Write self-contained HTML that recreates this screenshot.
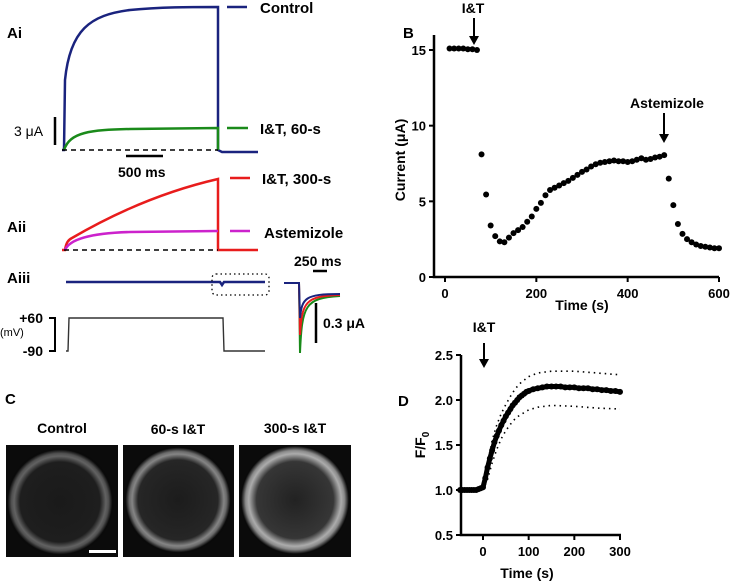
<!DOCTYPE html>
<html><head><meta charset="utf-8"><style>
html,body{margin:0;padding:0;background:#fff}
svg{display:block;font-family:"Liberation Sans",Arial,sans-serif;font-weight:bold}
</style></head><body>
<svg id="fig" width="731" height="584" viewBox="0 0 731 584" xmlns="http://www.w3.org/2000/svg">
<defs>
<radialGradient id="cellA" cx="50%" cy="50%" r="50%">
<stop offset="0" stop-color="#1a1a1a"/><stop offset="0.74" stop-color="#1e1e1e"/><stop offset="0.85" stop-color="#626262"/><stop offset="0.9" stop-color="#505050"/><stop offset="0.97" stop-color="#0a0a0a"/></radialGradient>
<radialGradient id="cellB" cx="50%" cy="50%" r="50%">
<stop offset="0" stop-color="#1c1c1c"/><stop offset="0.74" stop-color="#262626"/><stop offset="0.85" stop-color="#858585"/><stop offset="0.9" stop-color="#6a6a6a"/><stop offset="0.97" stop-color="#0a0a0a"/></radialGradient>
<radialGradient id="cellC" cx="50%" cy="50%" r="50%">
<stop offset="0" stop-color="#222"/><stop offset="0.7" stop-color="#363636"/><stop offset="0.84" stop-color="#acacac"/><stop offset="0.9" stop-color="#8a8a8a"/><stop offset="0.98" stop-color="#0a0a0a"/></radialGradient>
</defs>

<!-- Panel A -->
<g fill="none" stroke-width="2.5">
<text x="7" y="38" font-size="15" fill="#000" stroke="none">Ai</text>
<path d="M62,150 L64,150 L65,80 C70,30 90,15 130,10 C160,7 190,7 218,7 L218,150 L222,152 L258,152" stroke="#1a237e"/>
<path d="M64,150 C70,132 90,130 130,129 L218,128 L218,150" stroke="#1a8a1a"/>
<path d="M62,150 L218,150" stroke="#000" stroke-width="1.6" stroke-dasharray="5,4"/>
<line x1="227" y1="7" x2="247" y2="7" stroke="#1a237e"/>
<text x="260" y="13" font-size="15" fill="#000" stroke="none">Control</text>
<line x1="227" y1="128" x2="248" y2="128" stroke="#1a8a1a"/>
<text x="260" y="134" font-size="15" fill="#000" stroke="none">I&amp;T, 60-s</text>
<line x1="55" y1="117" x2="55" y2="145" stroke="#000"/>
<text x="14" y="136" font-size="14" fill="#000" stroke="none" font-weight="normal">3 μA</text>
<line x1="126" y1="156" x2="163" y2="156" stroke="#000"/>
<text x="118" y="177" font-size="14" fill="#000" stroke="none">500 ms</text>

<text x="7" y="232" font-size="15" fill="#000" stroke="none">Aii</text>
<path d="M62,250 L65,250 C66,243 68,240 72,238 C120,210 170,190 218,179 L218,250 L258,250" stroke="#e81c1c"/>
<path d="M65,250 C70,238 95,233 130,232 L218,231" stroke="#cc22cc"/>
<path d="M64,250 L218,250" stroke="#000" stroke-width="1.6" stroke-dasharray="5,4"/>
<line x1="230" y1="178" x2="250" y2="178" stroke="#e81c1c"/>
<text x="262" y="184" font-size="15" fill="#000" stroke="none">I&amp;T, 300-s</text>
<line x1="230" y1="231" x2="250" y2="231" stroke="#cc22cc"/>
<text x="264" y="238" font-size="15" fill="#000" stroke="none">Astemizole</text>

<text x="7" y="283" font-size="15" fill="#000" stroke="none">Aiii</text>
<path d="M66,282 L220,282 L222,285 L224,282 L265,282" stroke="#1a237e"/>
<rect x="212" y="274" width="57" height="21" rx="4" stroke="#000" stroke-width="1.3" stroke-dasharray="1.5,3"/>
<path d="M66,351 L68,351 L69,318 L223,318 L224,351 L265,351" stroke="#333" stroke-width="1.4"/>
<path d="M49,318 L55,318 L55,351 L49,351" stroke="#000" stroke-width="2"/>
<text x="43" y="323" font-size="14" fill="#000" stroke="none" text-anchor="end">+60</text>
<text x="0" y="336" font-size="11" fill="#000" stroke="none" font-weight="normal">(mV)</text>
<text x="43" y="356" font-size="14" fill="#000" stroke="none" text-anchor="end">-90</text>
<g stroke-width="2">
<path d="M284,283 L299,283 L300,353 C302,305 305,298 340,296" stroke="#1a8a1a"/>
<path d="M284,283 L299,283 L300,335 C302,302 305,296 340,295" stroke="#e81c1c"/>
<path d="M284,283 L299,283 L300,318 C302,298 305,294 340,294" stroke="#1a237e"/>
</g>
<line x1="313" y1="271" x2="327" y2="271" stroke="#000"/>
<text x="294" y="266" font-size="14" fill="#000" stroke="none">250 ms</text>
<line x1="316" y1="303" x2="316" y2="343" stroke="#000"/>
<text x="323" y="328" font-size="14" fill="#000" stroke="none">0.3 μA</text>
</g>

<!-- Panel C -->
<g>
<text x="5" y="404" font-size="15">C</text>
<text x="62" y="433" font-size="14" text-anchor="middle">Control</text>
<text x="178" y="434" font-size="14" text-anchor="middle">60-s I&amp;T</text>
<text x="295" y="433" font-size="14" text-anchor="middle">300-s I&amp;T</text>
<rect x="6" y="445" width="112" height="112" fill="#0b0b0b"/>
<circle cx="60" cy="502" r="54" fill="url(#cellA)"/>
<rect x="89" y="550" width="27" height="3" fill="#fff"/>
<rect x="123" y="445" width="111" height="112" fill="#0b0b0b"/>
<circle cx="178" cy="500" r="54" fill="url(#cellB)"/>
<rect x="239" y="445" width="112" height="112" fill="#0b0b0b"/>
<circle cx="295" cy="500" r="55" fill="url(#cellC)"/>
</g>

<g id="chartB"></g>
<g id="chartD"></g>
</svg>
<script>
const NS="http://www.w3.org/2000/svg";
const bTimes=[10,20,30,40,50,60,70,80,90,100,110,120,130,140,150,160,170,180,190,200,210,220,230,240,250,260,270,280,290,300,310,320,330,340,350,360,370,380,390,400,410,420,430,440,450,460,470,480,490,500,510,520,530,540,550,560,570,580,590,600];
const bCurrent=[15.1,15.1,15.1,15.1,15.05,15.05,15.0,8.1,5.45,3.4,2.7,2.35,2.3,2.6,2.9,3.1,3.3,3.65,4.0,4.5,4.9,5.4,5.75,5.9,6.05,6.2,6.35,6.55,6.75,6.95,7.1,7.3,7.45,7.55,7.6,7.65,7.7,7.65,7.65,7.6,7.65,7.75,7.85,7.75,7.8,7.9,7.95,8.05,6.5,4.75,3.5,2.85,2.5,2.3,2.15,2.05,2.0,1.95,1.9,1.9];
const bXTicks=[0,200,400,600];
const bYTicks=[0,5,10,15];
const dTimes=[-50,-45,-40,-35,-30,-25,-20,-15,-10,-5,0,5,10,15,20,25,30,35,40,45,50,55,60,65,70,75,80,85,90,95,100,110,120,130,140,150,160,170,180,190,200,210,220,230,240,250,260,270,280,290,300];
const dMean=[1.0,1.0,1.0,1.0,1.0,1.0,1.0,1.0,1.01,1.02,1.03,1.13,1.25,1.35,1.44,1.53,1.6,1.66,1.72,1.77,1.82,1.86,1.9,1.94,1.97,2.0,2.03,2.05,2.07,2.09,2.1,2.12,2.13,2.14,2.15,2.15,2.15,2.15,2.14,2.14,2.14,2.13,2.13,2.13,2.12,2.12,2.11,2.11,2.1,2.1,2.09];
const dUpperTimes=[0,10,20,30,40,50,60,70,80,100,120,150,200,250,300];
const dUpper=[1.05,1.3,1.55,1.72,1.85,1.95,2.04,2.12,2.18,2.26,2.3,2.32,2.32,2.3,2.28];
const dLower=[1.0,1.12,1.3,1.45,1.57,1.66,1.73,1.79,1.83,1.89,1.92,1.94,1.93,1.91,1.9];
const dXTicks=[0,100,200,300];
const dYTicks=[0.5,1.0,1.5,2.0,2.5];

function el(tag,attrs,parent){const e=document.createElementNS(NS,tag);for(const k in attrs)e.setAttribute(k,attrs[k]);parent.appendChild(e);return e;}

// Chart B
const gB=document.getElementById('chartB');
const bx=t=>445+t*(719-445)/600;
const by=v=>277-v*(277-50)/15;
el('path',{d:`M434,35 L434,277 L719,277`,fill:'none',stroke:'#000','stroke-width':2.5},gB);
bXTicks.forEach(t=>{el('line',{x1:bx(t),y1:277,x2:bx(t),y2:282,stroke:'#000','stroke-width':2},gB);
 const tx=el('text',{x:bx(t),y:298,'font-size':13,'text-anchor':'middle'},gB);tx.textContent=t;
 
 });
bYTicks.forEach(v=>{el('line',{x1:429,y1:by(v),x2:434,y2:by(v),stroke:'#000','stroke-width':2},gB);
 const tx=el('text',{x:426,y:by(v)+5,'font-size':13,'text-anchor':'end'},gB);tx.textContent=v;
 
 });
bTimes.forEach((t,i)=>{const c=el('circle',{cx:bx(t),cy:by(bCurrent[i]),r:3,fill:'#000'},gB);
 
 });
let t1=el('text',{x:403,y:38,'font-size':15},gB);t1.textContent='B';
let t2=el('text',{x:582,y:310,'font-size':14,'text-anchor':'middle'},gB);t2.textContent='Time (s)';


let t3=el('text',{x:0,y:0,'font-size':14,'text-anchor':'middle',transform:'translate(405,160) rotate(-90)'},gB);t3.textContent='Current (μA)';


let t4=el('text',{x:473,y:13,'font-size':14,'text-anchor':'middle'},gB);t4.textContent='I&T';
el('path',{d:'M474,18 L474,42',stroke:'#000','stroke-width':2},gB);el('path',{d:'M469,36 L474,45 L479,36 Z',fill:'#000'},gB);
let t5=el('text',{x:667,y:108,'font-size':14,'text-anchor':'middle'},gB);t5.textContent='Astemizole';
el('path',{d:'M664,113 L664,140',stroke:'#000','stroke-width':2},gB);el('path',{d:'M659,134 L664,143 L669,134 Z',fill:'#000'},gB);

// Chart D
const gD=document.getElementById('chartD');
const dx=t=>483+t*(620-483)/300;
const dy=v=>535-(v-0.5)*90;
el('path',{d:`M461,355 L461,535 L621,535`,fill:'none',stroke:'#000','stroke-width':2.5},gD);
dXTicks.forEach(t=>{el('line',{x1:dx(t),y1:535,x2:dx(t),y2:540,stroke:'#000','stroke-width':2},gD);
 const tx=el('text',{x:dx(t),y:556,'font-size':13,'text-anchor':'middle'},gD);tx.textContent=t;
 
 });
dYTicks.forEach(v=>{el('line',{x1:456,y1:dy(v),x2:461,y2:dy(v),stroke:'#000','stroke-width':2},gD);
 const tx=el('text',{x:453,y:dy(v)+5,'font-size':13,'text-anchor':'end'},gD);tx.textContent=v.toFixed(1);
 
 });
const pu=el('polyline',{points:dUpperTimes.map((t,i)=>dx(t)+','+dy(dUpper[i])).join(' '),fill:'none',stroke:'#000','stroke-width':1.6,'stroke-dasharray':'1.5,4'},gD);


const pl=el('polyline',{points:dUpperTimes.map((t,i)=>dx(t)+','+dy(dLower[i])).join(' '),fill:'none',stroke:'#000','stroke-width':1.6,'stroke-dasharray':'1.5,4'},gD);


const pm=el('polyline',{points:dTimes.map((t,i)=>dx(t)+','+dy(dMean[i])).join(' '),fill:'none',stroke:'#000','stroke-width':5},gD);


dTimes.forEach((t,i)=>{const c=el('circle',{cx:dx(t),cy:dy(dMean[i]),r:3,fill:'#000'},gD);
 
 });
let d1=el('text',{x:398,y:406,'font-size':15},gD);d1.textContent='D';
let d2=el('text',{x:527,y:578,'font-size':14,'text-anchor':'middle'},gD);d2.textContent='Time  (s)';


let d3=el('text',{x:0,y:0,'font-size':14,'text-anchor':'middle',transform:'translate(425,445) rotate(-90)'},gD);
d3.innerHTML='F/F<tspan font-size="10" dy="4">0</tspan>';


let d4=el('text',{x:484,y:332,'font-size':14,'text-anchor':'middle'},gD);d4.textContent='I&T';
el('path',{d:'M484,343 L484,362',stroke:'#000','stroke-width':2},gD);el('path',{d:'M479,359 L484,368 L489,359 Z',fill:'#000'},gD);
</script>
</body></html>
